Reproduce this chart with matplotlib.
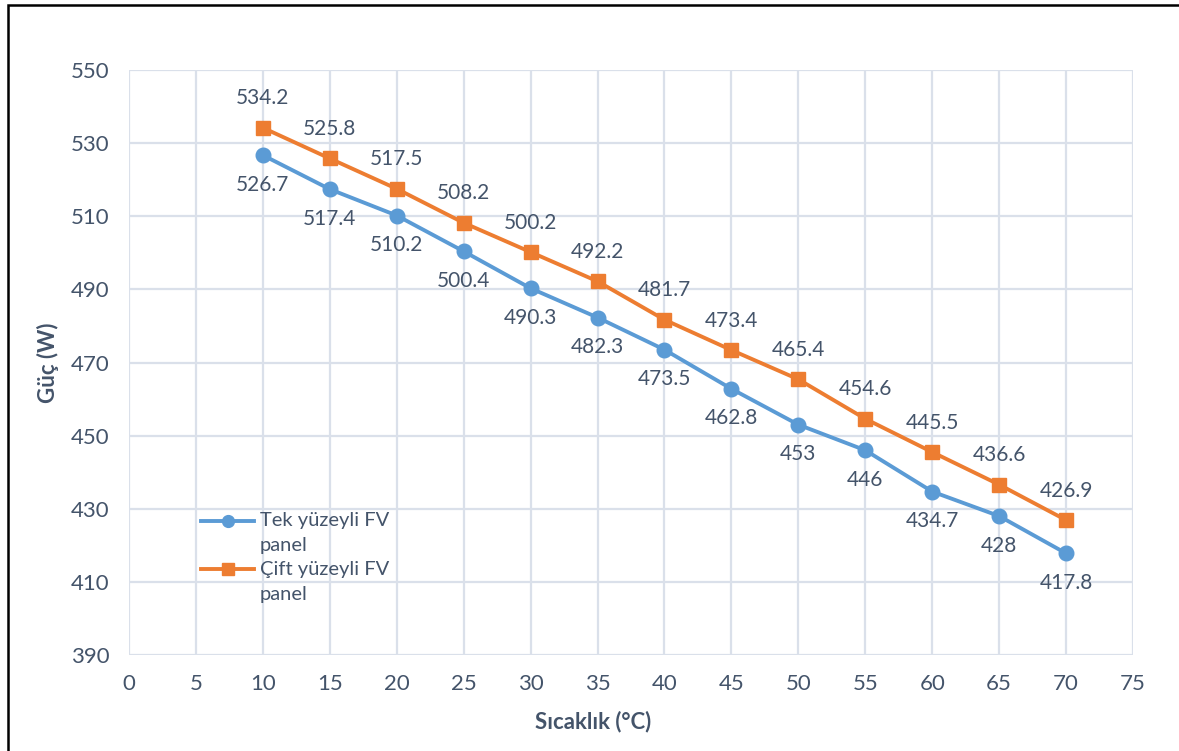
import matplotlib.pyplot as plt
from matplotlib.patches import Rectangle
from matplotlib.legend_handler import HandlerLine2D

plt.rcParams['font.family'] = ['Lato', 'DejaVu Sans']

sicaklik = [10, 15, 20, 25, 30, 35, 40, 45, 50, 55, 60, 65, 70]
tek = [526.7, 517.4, 510.2, 500.4, 490.3, 482.3, 473.5, 462.8, 453, 446, 434.7, 428, 417.8]
cift = [534.2, 525.8, 517.5, 508.2, 500.2, 492.2, 481.7, 473.4, 465.4, 454.6, 445.5, 436.6, 426.9]

mavi = '#5b9bd5'
turuncu = '#ed7d31'
yazi = '#44546a'


class UstSatirHandler(HandlerLine2D):
    # isaret cok satirli etiketin ilk satirina hizalanir
    def create_artists(self, legend, orig_handle, xdescent, ydescent,
                       width, height, fontsize, trans):
        artists = super().create_artists(legend, orig_handle, xdescent, ydescent,
                                         width, height, fontsize, trans)
        for a in artists:
            a.set_ydata([y + 0.62 * fontsize for y in a.get_ydata()])
            a.set_markersize(8.5)
        return artists


fig = plt.figure(figsize=(11.79, 7.51), dpi=100)
ax = fig.add_axes([0.1094, 0.1278, 0.8516, 0.779])

# cerceve
fig.patches.append(Rectangle((0.007, -0.05), 1.1, 1.043, transform=fig.transFigure,
                             fill=False, edgecolor='black', linewidth=1.8))

ax.plot(sicaklik, tek, color=mavi, linewidth=2.8, marker='o', markersize=10.5,
        label='Tek yüzeyli FV\npanel', zorder=3)
ax.plot(sicaklik, cift, color=turuncu, linewidth=2.8, marker='s', markersize=10.5,
        label='Çift yüzeyli FV\npanel', zorder=3)

for x, y in zip(sicaklik, tek):
    ax.annotate(f'{y:g}', (x, y), xytext=(0, -14), textcoords='offset points',
                ha='center', va='top', fontsize=15, color=yazi)
for x, y in zip(sicaklik, cift):
    ax.annotate(f'{y:g}', (x, y), xytext=(0, 14), textcoords='offset points',
                ha='center', va='bottom', fontsize=15, color=yazi)

ax.set_xlim(0, 75)
ax.set_ylim(390, 550)
ax.set_xticks(range(0, 76, 5))
ax.set_yticks(range(390, 551, 20))
ax.grid(True, color='#dae0ea', linewidth=1.6)
ax.set_axisbelow(True)
for s in ax.spines.values():
    s.set_visible(False)
ax.tick_params(length=0, labelsize=16, colors=yazi, pad=14)

ax.set_xlabel('Sıcaklık (°C)', fontsize=16, fontweight='bold', color=yazi)
ax.xaxis.set_label_coords(0.462, -0.095)
ax.set_ylabel('Güç (W)', fontsize=16, fontweight='bold', color=yazi)
ax.yaxis.set_label_coords(-0.07, 0.5)

isaret = UstSatirHandler()
leg = ax.legend(loc='upper left', bbox_to_anchor=(0.054, 0.275), frameon=False,
                fontsize=14.5, labelcolor=yazi, handlelength=2.6, labelspacing=0.35,
                handletextpad=0.3, handler_map={ax.lines[0]: isaret, ax.lines[1]: isaret})
for t in leg.get_texts():
    t.set_linespacing(1.55)

fig.savefig('out.png', dpi=100)
